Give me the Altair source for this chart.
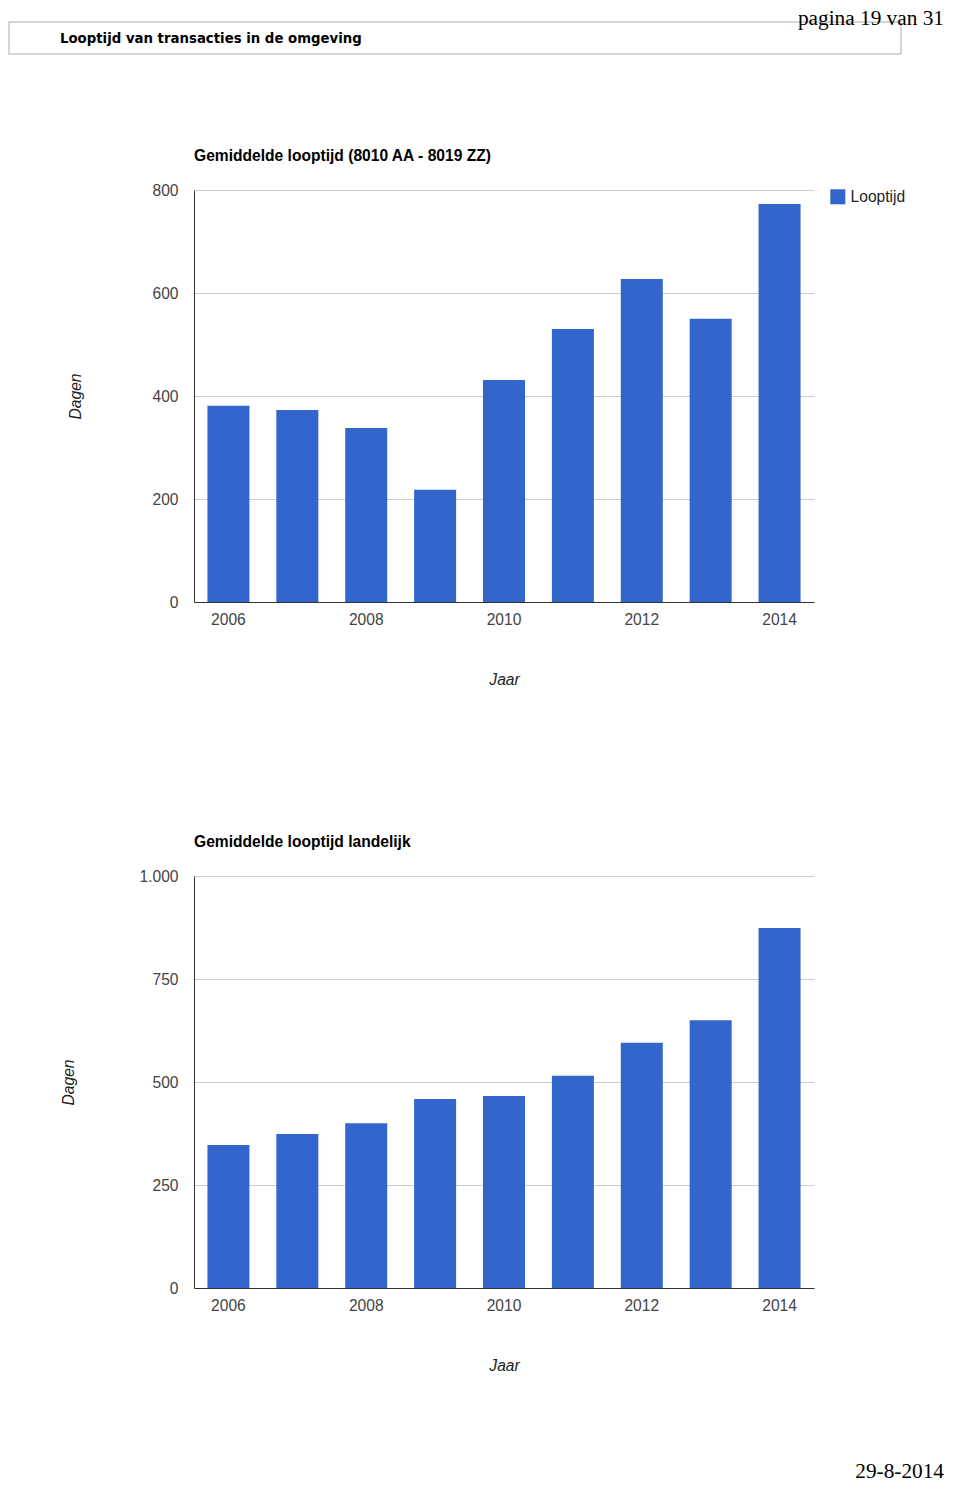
import altair as alt
import pandas as pd

# ---- data ----
years = [2006, 2007, 2008, 2009, 2010, 2011, 2012, 2013, 2014]
local_days = [381, 373, 338, 218, 431, 530, 627, 550, 773]
national_days = [347, 374, 400, 459, 466, 515, 595, 650, 874]
labelled_years = [2006, 2008, 2010, 2012, 2014]
local_ticks = [0, 200, 400, 600, 800]
national_ticks = [0, 250, 500, 750, 1000]
series_name = "Looptijd"

page_title = "Looptijd van transacties in de omgeving"
page_number = "pagina 19 van 31"
page_date = "29-8-2014"
title_local = "Gemiddelde looptijd (8010 AA - 8019 ZZ)"
title_national = "Gemiddelde looptijd landelijk"

FONT = "Liberation Sans"
SERIF = "Liberation Serif"
BLUE = "#3366CC"
FS = 15.6
PLOT_W, PLOT_H = 620, 412


def text_layer(label, x, y, size, font=FONT, weight="normal", align="left", color="#000000"):
    return alt.Chart(pd.DataFrame({"t": [label]})).mark_text(
        align=align, baseline="alphabetic", font=font, fontSize=size,
        fontWeight=weight, color=color
    ).encode(x=alt.value(x), y=alt.value(y), text="t:N")


def bars(values, ticks, title_padding):
    df = pd.DataFrame({"Jaar": years, "Dagen": values, "Reeks": [series_name] * len(years)})
    return alt.Chart(df).mark_bar().encode(
        x=alt.X(
            "Jaar:O", title="Jaar",
            scale=alt.Scale(paddingInner=0.39, paddingOuter=0.195),
            axis=alt.Axis(values=labelled_years, labelAngle=0, grid=False, ticks=False,
                          labelPadding=10, titlePadding=45),
        ),
        y=alt.Y(
            "Dagen:Q", title="Dagen",
            scale=alt.Scale(domain=[ticks[0], ticks[-1]], nice=False),
            axis=alt.Axis(values=ticks, ticks=False, labelPadding=16, titlePadding=title_padding,
                          grid=True, gridColor="#cccccc",
                          labelExpr="replace(format(datum.value, ','), ',', '.')"),
        ),
        color=alt.Color(
            "Reeks:N", scale=alt.Scale(range=[BLUE]),
            legend=alt.Legend(title=None, orient="none", legendX=636, legendY=-1,
                              symbolType="square", symbolSize=225, symbolStrokeWidth=0,
                              labelFont=FONT, labelFontSize=FS, labelColor="#222222",
                              labelOffset=5, padding=0),
        ),
    )


header_box = alt.Chart(pd.DataFrame({"t": [page_title]})).mark_rect(
    fill="white", stroke="#c8c8c8", strokeWidth=1.5
).encode(x=alt.value(-185), x2=alt.value(707), y=alt.value(-168), y2=alt.value(-136))

chart_local = alt.layer(
    header_box,
    text_layer(page_title, -134, -147, 13.3, font="DejaVu Sans", weight="bold"),
    text_layer(page_number, 750, -165, 21.3, font=SERIF, align="right"),
    text_layer(title_local, 0, -29, FS, weight="bold"),
    bars(local_days, local_ticks, 68),
).properties(width=PLOT_W, height=PLOT_H)

chart_national = alt.layer(
    text_layer(title_national, 0, -29, FS, weight="bold"),
    bars(national_days, national_ticks, 62),
    text_layer(page_date, 750, 602, 21.3, font=SERIF, align="right"),
).properties(width=PLOT_W, height=PLOT_H)

chart = alt.vconcat(chart_local, chart_national, spacing=146).properties(
    padding=0
).configure_axis(
    labelFont=FONT, labelFontSize=FS, labelColor="#444444",
    titleFont=FONT, titleFontSize=FS, titleFontStyle="italic", titleFontWeight="normal",
    titleColor="#222222", domainColor="#333333", domainWidth=1,
).configure_view(strokeWidth=0)

chart.save("out.html", embed_options={"renderer": "svg", "actions": False})
